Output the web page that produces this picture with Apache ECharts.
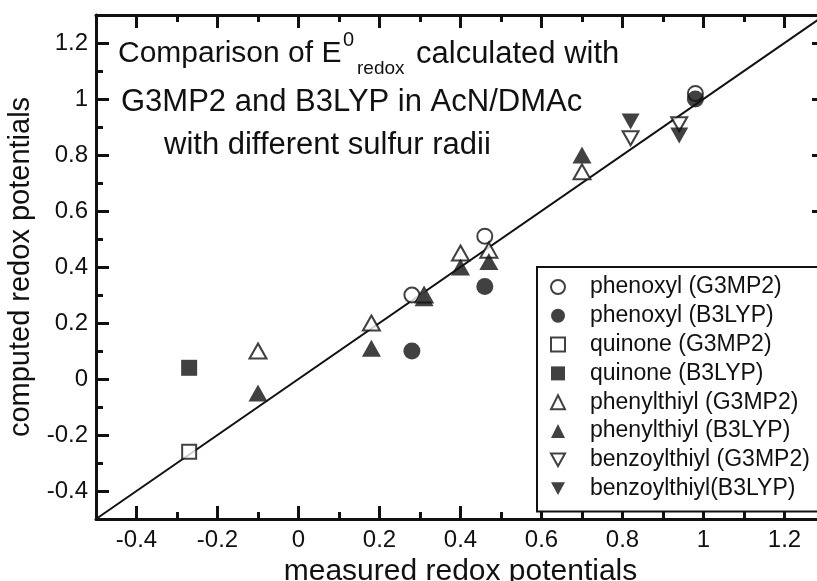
<!doctype html>
<html lang="en">
<head>
  <meta charset="UTF-8">
  <title>E0 redox comparison</title>
  <script src="https://cdn.jsdelivr.net/npm/echarts@6/dist/echarts.min.js"></script>
  <style>
    html, body { margin: 0; padding: 0; background: #fff; }
    #chart { width: 817px; height: 581px; }
  </style>
</head>
<body>
<div id="chart"></div>
<script>
  // measured vs computed redox potentials
  var phenoxylG3 = [[0.28, 0.30], [0.46, 0.51], [0.98, 1.02]];
  var phenoxylB3 = [[0.28, 0.10], [0.46, 0.33], [0.98, 1.00]];
  var quinoneG3 = [[-0.27, -0.26]];
  var quinoneB3 = [[-0.27, 0.04]];
  var phenylthiylG3 = [[-0.10, 0.10], [0.18, 0.20], [0.31, 0.30], [0.40, 0.45], [0.47, 0.46], [0.70, 0.74]];
  var phenylthiylB3 = [[-0.10, -0.05], [0.18, 0.11], [0.31, 0.29], [0.40, 0.40], [0.47, 0.42], [0.70, 0.80]];
  var benzoylthiylG3 = [[0.82, 0.86], [0.94, 0.91]];
  var benzoylthiylB3 = [[0.82, 0.92], [0.94, 0.87]];
  var diagonal = [[-0.5, -0.5], [1.3, 1.3]];

  var majorTicks = [-0.4, -0.2, 0, 0.2, 0.4, 0.6, 0.8, 1, 1.2];
  var seriesNames = ['phenoxyl (G3MP2)', 'phenoxyl (B3LYP)', 'quinone (G3MP2)', 'quinone (B3LYP)',
    'phenylthiyl (G3MP2)', 'phenylthiyl (B3LYP)', 'benzoylthiyl (G3MP2)', 'benzoylthiyl(B3LYP)'];

  var ink = '#111';
  var font = 'Liberation Sans, Arial, Helvetica, sans-serif';
  var downTriangle = 'path://M0,0 L10,0 L5,9 Z';

  function majorAxis(pos, withLabels, margin) {
    return {
      type: 'value', position: pos, min: -0.5, max: 1.3, interval: 0.1,
      axisLine: { show: true, onZero: false, lineStyle: { color: ink, width: 3 } },
      axisTick: { show: true, inside: true, length: 13, customValues: majorTicks, lineStyle: { color: ink, width: 3 } },
      axisLabel: withLabels
        ? { show: true, customValues: majorTicks, color: ink, fontSize: 24, fontFamily: font, margin: margin }
        : { show: false },
      splitLine: { show: false }
    };
  }

  function minorAxis(pos) {
    return {
      type: 'value', position: pos, min: -0.5, max: 1.3, interval: 0.1,
      axisLine: { show: false, onZero: false },
      axisTick: { show: true, inside: true, length: 7, lineStyle: { color: ink, width: 3 } },
      axisLabel: { show: false },
      splitLine: { show: false }
    };
  }

  var xBottom = majorAxis('bottom', true, 9);
  xBottom.name = 'measured redox potentials';
  xBottom.nameLocation = 'middle';
  xBottom.nameGap = 32;
  xBottom.nameTextStyle = { color: ink, fontSize: 30, fontFamily: font };

  var yLeft = majorAxis('left', true, 8);
  yLeft.name = 'computed redox potentials';
  yLeft.nameLocation = 'middle';
  yLeft.nameGap = 50;
  yLeft.nameTextStyle = { color: ink, fontSize: 29, fontFamily: font };

  var openStyle = { color: '#fff', borderColor: ink, borderWidth: 2 };
  var filledStyle = { color: ink };

  function scatter(name, data, symbol, size, style) {
    return {
      name: name, type: 'scatter', data: data, symbol: symbol, symbolSize: size,
      itemStyle: style, z: 3
    };
  }

  var legendData = seriesNames.map(function (n, i) {
    return i >= 6 ? { name: n, icon: downTriangle } : { name: n };
  });

  var titleStyle = { fontSize: 31, fontFamily: font, fill: ink, align: 'left', verticalAlign: 'middle' };
  function titlePart(text, x, y, size) {
    var st = Object.assign({}, titleStyle, { text: text });
    if (size) st.fontSize = size;
    return { type: 'text', x: x, y: y, style: st };
  }

  var chart = echarts.init(document.getElementById('chart'));
  chart.setOption({
    animation: false,
    grid: { left: 96, top: 15, width: 729, height: 504, containLabel: false, outerBoundsMode: 'none' },
    xAxis: [xBottom, minorAxis('bottom'), majorAxis('top', false), minorAxis('top')],
    yAxis: [yLeft, minorAxis('left'), majorAxis('right', false), minorAxis('right')],
    legend: {
      orient: 'vertical', left: 537, top: 267,
      data: legendData,
      itemWidth: 14, itemHeight: 14, itemGap: 4.8,
      padding: [8, 14, 11, 13],
      borderColor: ink, borderWidth: 2, borderRadius: 0, backgroundColor: '#fff',
      textStyle: { color: ink, fontSize: 23, fontFamily: font, lineHeight: 24, padding: [0, 0, 0, 20] }
    },
    graphic: [
      titlePart('Comparison of E', 118, 54, 30),
      titlePart('0', 343, 40, 20),
      titlePart('redox', 357, 69, 19),
      titlePart('calculated with', 416, 54),
      titlePart('G3MP2 and B3LYP in AcN/DMAc', 121, 102),
      titlePart('with different sulfur radii', 164, 145)
    ],
    series: [
      {
        name: 'diagonal', type: 'line', data: diagonal, symbol: 'none', silent: true, z: 2,
        lineStyle: { color: ink, width: 2 }
      },
      scatter(seriesNames[0], phenoxylG3, 'circle', 15, openStyle),
      scatter(seriesNames[1], phenoxylB3, 'circle', 17, filledStyle),
      scatter(seriesNames[2], quinoneG3, 'rect', 14, openStyle),
      scatter(seriesNames[3], quinoneB3, 'rect', 16, filledStyle),
      scatter(seriesNames[4], phenylthiylG3, 'triangle', [17, 15], openStyle),
      scatter(seriesNames[5], phenylthiylB3, 'triangle', [19, 17], filledStyle),
      scatter(seriesNames[6], benzoylthiylG3, downTriangle, [16, 14], openStyle),
      scatter(seriesNames[7], benzoylthiylB3, downTriangle, [18, 16], filledStyle)
    ]
  });
</script>
</body>
</html>
